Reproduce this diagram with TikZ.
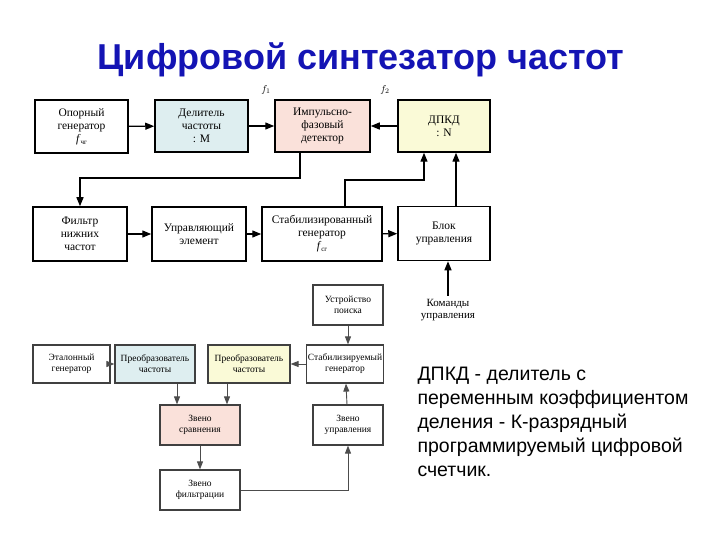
\documentclass[tikz,border=0pt]{standalone}
\usepackage{fontspec}
\setmainfont{Liberation Serif}
\newfontfamily\arialf{Liberation Sans}
\usetikzlibrary{arrows.meta}
\definecolor{lblue}{RGB}{222,238,240}
\definecolor{lpink}{RGB}{250,225,218}
\definecolor{lyel}{RGB}{250,250,215}
\definecolor{tblue}{RGB}{20,20,180}
\newcommand{\fsub}[1]{\textit{f}\raisebox{-2pt}{\scriptsize #1}}
\begin{document}
\begin{tikzpicture}[x=1pt,y=-1pt,
 bx/.style={draw,line width=1.5pt,align=center,font=\fontsize{11.5}{13}\selectfont,inner sep=1pt},
 sbx/.style={draw=black!75,line width=1.2pt,align=center,font=\fontsize{9.5}{11}\selectfont,inner sep=1pt},
 ar/.style={-{Triangle[length=9pt,width=7pt]},line width=1.3pt},
 sar/.style={-{Triangle[length=8pt,width=6pt]},line width=0.9pt,draw=black!70}]
\useasboundingbox (0,0) rectangle (720,540);
\node[text=tblue,font=\arialf\bfseries\fontsize{36}{40}\selectfont] (title) at (361,60) {Цифровой синтезатор частот};
% top row
\node[bx,minimum width=93,minimum height=53] (op) at (81.5,126.5) {Опорный\\генератор\\\fsub{чг}};
\node[bx,minimum width=93,minimum height=52,fill=lblue] (del) at (201.5,126) {Делитель\\частоты\\: M};
\node[bx,minimum width=95,minimum height=52,fill=lpink] (imp) at (322.5,126) {Импульсно-\\фазовый\\детектор};
\node[bx,minimum width=92,minimum height=52,fill=lyel] (dp) at (444,126) {ДПКД\\: N};
\node (f1) at (266,90) {$f_1$};
\node (f2) at (385,90) {$f_2$};
\node[bx,minimum width=94,minimum height=54] (fil) at (80,234) {Фильтр\\нижних\\частот};
\node[bx,minimum width=94,minimum height=54] (upr) at (199,234) {Управляющий\\элемент};
\node[bx,minimum width=120,minimum height=54] (st) at (322,234) {Стабилизированный\\генератор\\\fsub{сг}};
\node[bx,minimum width=92,minimum height=54] (bl) at (444,233.5) {Блок\\управления};
\node[align=center,font=\fontsize{11}{12}\selectfont] (cmd) at (448,310) {Команды\\управления};
\draw[ar] (op) -- (del);
\draw[ar] (del) -- (imp);
\draw[ar] (dp) -- (imp);
\draw[ar] (imp.south -| 300,0) |- (80,178) -- (fil.north);
\draw[ar] (fil) -- (upr);
\draw[ar] (upr) -- (st);
\draw[ar] (st) -- (bl);
\draw[ar] (st.north -| 345,0) |- (424,180) -- (dp.south -| 424,0);
\draw[ar] (bl.north -| 456,0) -- (dp.south -| 456,0);
\draw[ar] (cmd.north -| 448,0) -- (bl.south -| 448,0);
% lower
\node[sbx,minimum width=70,minimum height=40] (us) at (348,305) {Устройство\\поиска};
\node[sbx,minimum width=77,minimum height=38] (et) at (71.5,364) {Эталонный\\генератор};
\node[sbx,minimum width=80,minimum height=38,fill=lblue] (p1) at (155,364) {Преобразователь\\частоты};
\node[sbx,minimum width=82,minimum height=38,fill=lyel] (p2) at (249,364) {Преобразователь\\частоты};
\node[sbx,minimum width=76,minimum height=38] (sg) at (345,364) {Стабилизируемый\\генератор};
\node[sbx,minimum width=80,minimum height=40,fill=lpink] (zs) at (200,425) {Звено\\сравнения};
\node[sbx,minimum width=70,minimum height=40] (zu) at (348,425) {Звено\\управления};
\node[sbx,minimum width=80,minimum height=40] (zf) at (200,490) {Звено\\фильтрации};
\draw[sar] (us) -- (us.south |- sg.north);
\draw[sar] (et) -- (p1);
\draw[sar] (sg) -- (p2);
\draw[sar] (p1.south -| 177,0) -- (zs.north -| 177,0);
\draw[sar] (p2.south -| 227,0) -- (zs.north -| 227,0);
\draw[sar] (zs) -- (zf);
\draw[sar] (zf.east) -| (zu.south);
\draw[sar] (zu) -- (sg);
\node[anchor=north west,align=left,font=\arialf\fontsize{19.5}{24}\selectfont] (txt) at (414,364) {ДПКД - делитель с\\переменным коэффициентом\\деления - К-разрядный\\программируемый цифровой\\счетчик.};
\end{tikzpicture}
\end{document}
